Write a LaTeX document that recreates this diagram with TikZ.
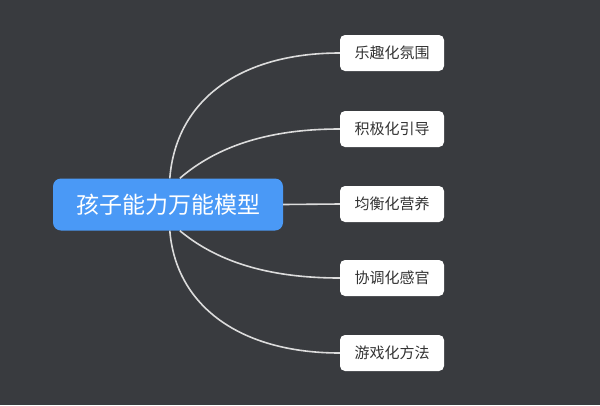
\documentclass[tikz,border=0pt]{standalone}
\usepackage{fontspec}
\setmainfont{Noto Sans CJK SC}
\usetikzlibrary{calc}
\definecolor{bg}{HTML}{393B3F}
\definecolor{mainblue}{HTML}{4A99F6}
\definecolor{linec}{HTML}{DCDCDC}
\definecolor{txt}{HTML}{333333}
\tikzset{
  rootbox/.style={fill=mainblue, rounded corners=8pt, minimum width=230pt, minimum height=52pt, inner sep=0pt, text=white, font=\fontsize{23}{27}\selectfont},
  leafbox/.style={fill=white, rounded corners=5pt, minimum width=104pt, minimum height=36pt, inner sep=0pt, text=txt, font=\fontsize{15}{18}\selectfont},
  conn/.style={draw=linec, line width=1.6pt}
}
\begin{document}
\begin{tikzpicture}[x=1pt,y=-1pt]
\fill[bg] (0,0) rectangle (600,405);
\useasboundingbox (0,0) rectangle (600,405);
\node[rootbox] (c) at (168,204.5) {孩子能力万能模型};
\node[leafbox] (a1) at (392,53) {乐趣化氛围};
\node[leafbox] (a2) at (392,129) {积极化引导};
\node[leafbox] (a3) at (392,204) {均衡化营养};
\node[leafbox] (a4) at (392,278) {协调化感官};
\node[leafbox] (a5) at (392,353) {游戏化方法};
\coordinate (s1) at ($(c.north west)+(117,0)$);
\coordinate (s2) at ($(c.north west)+(127,0)$);
\coordinate (s4) at ($(c.south west)+(127,0)$);
\coordinate (s5) at ($(c.south west)+(117,0)$);
\draw[conn] (s1) .. controls (176,100) and (240,53) .. (a1.west);
\draw[conn] (s2) .. controls (215,148) and (265,129) .. (a2.west);
\draw[conn] (c.east) -- (a3.west);
\draw[conn] (s4) .. controls (215,260) and (265,278) .. (a4.west);
\draw[conn] (s5) .. controls (176,306) and (240,353) .. (a5.west);
\end{tikzpicture}
\end{document}
